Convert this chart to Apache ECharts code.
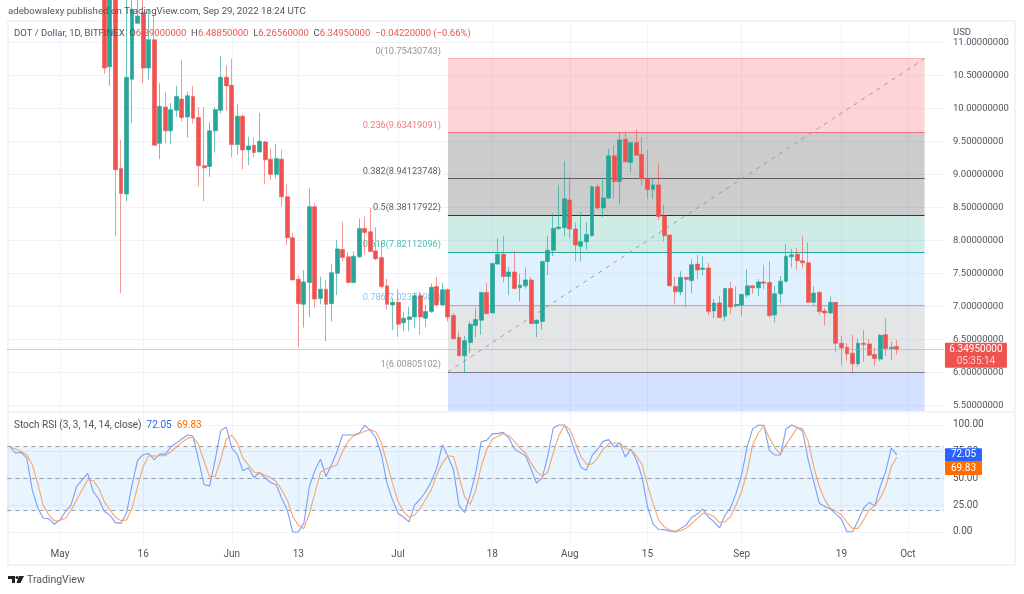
<!DOCTYPE html>
<html><head><meta charset="utf-8">
<style>html,body{margin:0;padding:0;background:#fff}#c{width:1024px;height:594px}</style>
<script src="https://cdn.jsdelivr.net/npm/echarts@6/dist/echarts.min.js"></script>
</head><body><div id="c"></div>
<script>
const FONT = 'Roboto, sans-serif';
// daily categories, 22 Apr 2022 to 8 Oct 2022
const firstDay = Date.UTC(2022, 3, 22);
const dayCount = 169;
const days = [];
for (let i = 0; i < dayCount; i++) days.push(new Date(firstDay + i * 86400000).toISOString().slice(0, 10));
const xTickDays = ['2022-05-01','2022-05-16','2022-06-01','2022-06-13','2022-07-01','2022-07-18','2022-08-01','2022-08-15','2022-09-01','2022-09-19','2022-10-01'];
const xTickLabels = ['May','16','Jun','13','Jul','18','Aug','15','Sep','19','Oct'];
const priceTicks = [5.5,6,6.5,7,7.5,8,8.5,9,9.5,10,10.5,11];
const stochTicks = [0,25,50,75,100];

// candles start on 9 May
const candleStart = '2022-05-09';
const opens = [11.75,10.63,11.9,9.09,8.7,10.44,11.29,11.45,10.61,11.04,
 9.47,10.02,9.66,9.97,10.14,9.87,10.18,9.86,9.13,9.12,
 9.66,9.97,10.47,10.35,9.45,9.88,9.37,9.44,9.34,9.49,
 9.23,9.0,9.23,8.66,8.04,7.41,7.03,7.36,8.51,7.12,
 7.26,7.04,7.5,7.86,7.75,7.36,7.75,8.18,8.13,7.84,
 7.74,7.31,7.02,7.06,6.75,6.8,6.84,7.16,6.82,6.92,
 7.3,7.02,7.25,6.86,6.53,6.25,6.45,6.71,6.79,7.21,
 6.9,7.64,7.79,7.45,7.52,7.28,7.31,7.4,6.74,6.77,
 7.68,7.85,8.18,8.19,8.61,8.17,7.91,7.98,8.07,8.81,
 8.49,8.64,9.28,8.89,9.53,9.18,9.48,9.3,8.94,8.77,
 8.84,8.37,8.08,7.3,7.22,7.44,7.39,7.64,7.56,7.58,
 6.93,7.05,6.85,7.27,7.01,7.02,7.17,7.31,7.28,7.37,
 7.36,6.87,7.19,7.38,7.75,7.79,7.69,7.66,7.06,7.21,
 6.93,6.9,7.06,6.44,6.38,6.29,6.13,6.44,6.43,6.27,
 6.2,6.57,6.36,6.39];
const closes = [10.61,11.8,9.07,8.71,10.47,11.5,11.4,10.61,11.04,9.44,
 10.03,9.66,9.98,10.18,9.86,10.19,9.85,9.13,9.1,9.66,
 9.98,10.47,10.34,9.45,9.88,9.37,9.43,9.33,9.5,9.22,
 9.0,9.24,8.66,8.04,7.4,7.04,7.37,8.51,7.11,7.26,
 7.03,7.51,7.87,7.74,7.36,7.76,8.18,8.12,7.83,7.72,
 7.3,7.03,7.06,6.73,6.82,6.84,7.16,6.84,6.92,7.29,
 7.02,7.25,6.84,6.51,6.25,6.48,6.73,6.8,7.21,6.89,
 7.65,7.79,7.45,7.52,7.27,7.32,7.4,6.74,6.79,7.68,
 7.85,8.18,8.2,8.63,8.17,7.93,7.98,8.09,8.81,8.49,
 8.64,9.28,8.89,9.52,9.19,9.48,9.29,8.93,8.77,8.84,
 8.36,8.07,7.31,7.22,7.44,7.41,7.63,7.55,7.58,6.92,
 7.05,6.83,7.27,6.99,7.03,7.18,7.31,7.28,7.37,7.35,
 6.86,7.19,7.38,7.76,7.78,7.69,7.66,7.06,7.2,6.92,
 6.9,7.06,6.44,6.37,6.28,6.13,6.44,6.42,6.26,6.21,
 6.56,6.36,6.38,6.3495];
const lows = [10.52,10.34,8.06,7.2,8.59,9.78,11.28,10.38,10.43,9.44,
 9.23,9.47,9.46,9.87,9.8,9.56,9.77,8.82,8.59,8.96,
 9.33,9.92,9.97,9.26,9.3,9.07,9.14,9.26,9.33,8.85,
 8.91,8.94,8.52,7.93,7.4,6.38,6.68,6.84,6.98,7.03,
 6.47,6.77,7.17,7.68,7.35,7.35,7.73,7.79,7.83,7.7,
 7.27,6.95,6.64,6.54,6.62,6.62,6.67,6.57,6.69,6.9,
 7.0,7.01,6.77,6.5,6.25,5.99,6.29,6.53,6.57,6.88,
 6.9,7.63,7.36,7.17,7.26,7.08,7.27,6.73,6.53,6.65,
 7.47,7.76,8.16,8.06,8.03,7.68,7.68,7.86,8.06,8.48,
 8.35,8.63,8.64,8.55,9.19,9.03,9.29,8.83,8.63,8.63,
 8.31,7.98,7.31,7.03,7.17,6.99,7.2,7.41,7.46,6.87,
 6.82,6.83,6.78,6.88,6.98,6.86,7.13,7.19,7.15,7.26,
 6.83,6.76,7.05,7.36,7.59,7.55,7.57,7.05,7.02,6.88,
 6.71,6.89,6.3,6.11,6.18,5.98,6.09,6.16,6.25,6.1,
 6.17,6.25,6.19,6.2656];
const highs = [11.9,12.1,12.2,9.52,11.8,11.75,11.7,11.8,11.5,11.4,
 10.38,10.25,10.08,10.34,10.73,10.25,10.34,10.02,10.02,9.79,
 10.02,10.79,10.65,10.75,10.06,9.91,9.57,9.555,9.93,9.51,
 9.39,9.46,9.37,8.85,8.11,7.47,7.55,8.79,8.56,7.45,
 7.4,7.64,8.0,8.28,7.83,7.83,8.33,8.36,8.49,8.2,
 7.98,7.42,7.12,7.26,6.92,6.99,7.21,7.22,7.02,7.35,
 7.44,7.35,7.27,6.9,6.62,6.55,6.77,6.98,7.22,7.35,
 7.66,8.03,8.07,7.6,7.84,7.49,7.59,7.44,6.8,7.69,
 8.07,8.41,8.84,9.2,8.96,8.27,8.43,8.27,8.83,8.86,
 8.92,9.39,9.44,9.64,9.63,9.48,9.68,9.56,9.37,8.94,
 9.17,8.54,8.08,7.45,7.53,7.44,7.71,7.78,7.76,7.66,
 7.11,7.16,7.27,7.37,7.3,7.19,7.56,7.31,7.41,7.63,
 7.69,7.31,7.46,7.94,7.87,7.89,8.06,7.97,7.3,7.24,
 6.97,7.15,7.06,6.55,6.44,6.57,6.51,6.64,6.5,6.37,
 6.58,6.82,6.46,6.4885];

// Stoch RSI, one value per day from 22 Apr
const stochK = [79.4,73.8,74.4,69.1,39.4,22.2,12.8,12.5,7.2,
 11.3,19.1,25.3,42.5,48.8,54.7,37.8,30.6,19.1,15.9,8.8,8.1,17.5,44.1,66.9,72.2,
 73.4,67.5,72.8,72.8,79.4,83.1,86.9,90.6,89.7,67.5,44.1,43.1,67.5,94.7,98.1,
 78.4,72.2,57.2,60,50.9,55.6,50.3,46.3,44.1,31.6,20.6,0,0,8.1,42.5,57.5,68.1,
 51.9,62.8,75.3,90.6,90.6,90.6,92.5,99.7,95,87.8,72.2,45.6,30,17.5,13.8,9.4,
 25.3,30.6,37.8,47.2,59.7,81.6,70.6,58.1,24.7,18.1,34.7,55,84.4,85.6,91.9,91.9,93.1,87.8,
 77.5,74.4,71.3,58.8,45.6,50.3,70.6,97.2,100,100,89.4,73.8,60.3,57.8,71.3,77.5,84.7,86.3,
 79.4,83.1,70,77.5,67.5,51.9,23.8,7.5,2.5,2.2,0.9,0,3.4,6.6,13.8,16.9,21.3,13.8,9.7,3.8,
 15.9,22.8,36.3,53.4,80,96.6,99.7,99.7,76.3,71.9,71.9,96.3,100,97.8,94.1,67.5,47.2,26.9,
 23.8,21.6,16.9,11.9,0.3,0.3,10.6,22.2,27.8,24.4,42.5,56.6,78.4,72.05];
const stochD = [79.4,77.5,75.3,72.2,62.8,45,24.4,15.9,10.3,
 10.9,12.8,20.6,30,39.4,48.8,48.1,40.9,28.4,20.6,13.8,10.6,11.3,22.2,42.5,61.3,
 71.3,70.9,71.3,71.3,75,79.4,83.8,87.5,88.8,81.6,65.9,51.9,51.9,67.5,86.9,
 90.6,83.1,69.1,62.8,55.9,55.6,52.8,50.9,47.2,39.4,30,14.4,6.6,3.1,17.5,36.3,55.9,
 59.1,60.6,62.8,75.3,84.7,90,91.9,94.1,95.6,93.4,83.1,64.4,45.6,28.4,19.1,13.8,
 15.9,22.2,30.6,39.4,53.4,64.4,71.3,70.6,51.9,33.1,25.9,38.4,61.3,76.9,86.9,89.4,91.9,90,
 84.7,78.4,73.8,64.4,56.6,51.9,55.6,73.8,90,100,95.6,83.1,70.6,63.4,63.4,69.1,77.5,82.2,
 83.1,83.1,77.8,76.9,71.3,63.4,44.1,26.9,11.3,5,1.9,0.6,1.3,3.4,8.1,12.8,17.5,16.9,14.4,8.8,
 9.7,14.4,25.3,37.8,56.6,81.6,92.5,98.8,87.8,78.4,72.8,81.6,89.4,97.5,96.6,84.7,61.3,42.5,
 30,22.2,19.7,15.9,9.1,3.4,3.4,11.3,20.6,24.4,31.6,42.5,61.3,69.83];

// Fibonacci retracement
const fibStart = '2022-07-10', fibEnd = '2022-10-04';
const fibLevels = ['0','0.236','0.382','0.5','0.618','0.786','1'];
const fibPrices = [10.75430743,9.63419091,8.94123748,8.38117922,7.82112096,7.02374989,6.00805102];
const fibLabelColors = ['#787b86','#f7525f','#333333','#333333','#22ab94','#64b5f6','#787b86'];
const fibLineColors = ['#f9b4b9','#e8747c','#5d5d5d','#333333','#22ab94','#7fbdf0','#787b86'];
const fibZoneColors = ['rgba(247,82,95,.25)','rgba(0,0,0,.2)','rgba(0,0,0,.2)','rgba(8,153,129,.2)','rgba(100,181,246,.2)','rgba(120,123,134,.2)','rgba(41,98,255,.2)'];
const lastClose = 6.3495;

const UP = 'rgb(38,166,154)', DOWN = 'rgb(239,83,80)', AXIS = '#50535e';
const UP_WICK = 'rgba(38,166,154,.65)', DOWN_WICK = 'rgba(239,83,80,.6)';
const priceMin = 5.414, priceMax = 11.323;
const padCount = days.indexOf(candleStart);
const candleData = Array.from({length: padCount}, () => ['-','-','-','-'])
  .concat(opens.map((o, i) => [o, closes[i], lows[i], highs[i]]));

const fibZones = fibPrices.map((p, i) => [
  {coord: [fibStart, p], itemStyle: {color: fibZoneColors[i]}},
  {coord: [fibEnd, i < 6 ? fibPrices[i + 1] : priceMin]}
]);
const fibLines = fibPrices.map((p, i) => [
  {coord: [fibStart, p], lineStyle: {color: fibLineColors[i], width: i === 0 ? 1 : 1.2, type: 'solid'}},
  {coord: [fibEnd, p]}
]);
fibLines.push([
  {coord: [fibStart, fibPrices[6]], lineStyle: {color: '#9a9ca3', width: 1, type: [4, 5]}},
  {coord: [fibEnd, fibPrices[0]]}
]);
const vGrid = xTickDays.map(d => ({xAxis: d}));

function tagSeries(name, xAxisIndex, yAxisIndex, day, value, dy, w, h, fill, lines) {
  return {
    name, type: 'custom', xAxisIndex, yAxisIndex, z: 20, silent: true, clip: false,
    data: [[day, value]],
    renderItem(params, api) {
      const y = api.coord([api.value(0), api.value(1)])[1] + dy;
      const x = params.coordSys.x + params.coordSys.width + 1;
      const kids = [{type: 'rect', shape: {x, y: y - h / 2, width: w, height: h, r: 1}, style: {fill}}];
      lines.forEach((l, i) => kids.push({
        type: 'text',
        style: {x: x + w / 2, y: y - h / 2 + (i + .5) * h / lines.length, text: l.t, fill: l.c,
          font: '10px ' + FONT, align: 'center', verticalAlign: 'middle'}
      }));
      return {type: 'group', children: kids};
    }
  };
}

const chart = echarts.init(document.getElementById('c'), null, {renderer: 'canvas'});
chart.setOption({
  animation: false,
  backgroundColor: '#fff',
  textStyle: {fontFamily: FONT},
  grid: [
    {left: 7.35, width: 936.6, top: 21, height: 390},
    {left: 7.35, width: 936.6, top: 413, height: 130}
  ],
  xAxis: [
    {type: 'category', gridIndex: 0, data: days, axisLine: {show: false}, axisTick: {show: false}, axisLabel: {show: false}, splitLine: {show: false}},
    {type: 'category', gridIndex: 1, data: days, axisLine: {show: false}, axisTick: {show: false}, splitLine: {show: false},
     axisLabel: {margin: 6, fontSize: 10, color: AXIS, interval: (i, v) => xTickDays.includes(v),
       formatter: v => xTickLabels[xTickDays.indexOf(v)]}}
  ],
  yAxis: [
    {type: 'value', gridIndex: 0, position: 'right', min: priceMin, max: priceMax, scale: true,
     axisLine: {show: false}, axisTick: {show: false, customValues: priceTicks},
     splitLine: {lineStyle: {color: '#f0f3fa', width: 1}},
     axisLabel: {customValues: priceTicks, margin: 9, fontSize: 9.5, padding: [2, 0, 0, 0], color: AXIS, formatter: v => v.toFixed(8)}},
    {type: 'value', gridIndex: 1, position: 'right', min: -10.28, max: 111.2,
     axisLine: {show: false}, axisTick: {show: false, customValues: stochTicks},
     splitLine: {lineStyle: {color: '#f0f3fa', width: 1}},
     axisLabel: {customValues: stochTicks, margin: 9, fontSize: 10, padding: [2, 0, 0, 0], color: AXIS, formatter: v => v.toFixed(2)}}
  ],
  series: [
    {name: 'gridTop', type: 'line', xAxisIndex: 0, yAxisIndex: 0, data: [], z: 0, silent: true,
     markLine: {silent: true, z: 0, symbol: 'none', animation: false, label: {show: false}, lineStyle: {color: '#f0f3fa', width: 1, type: 'solid'}, data: vGrid}},
    {name: 'gridBottom', type: 'line', xAxisIndex: 1, yAxisIndex: 1, data: [], z: 0, silent: true,
     markLine: {silent: true, z: 0, symbol: 'none', animation: false, label: {show: false}, lineStyle: {color: '#f0f3fa', width: 1, type: 'solid'}, data: vGrid}},
    {name: 'Fib', type: 'scatter', xAxisIndex: 0, yAxisIndex: 0, z: 1, silent: true, symbolSize: 0,
     data: fibPrices.map((p, i) => ({value: [fibStart, p],
       label: {show: true, position: 'left', distance: 7, offset: [0, -7], fontSize: 9.2, color: fibLabelColors[i],
         formatter: fibLevels[i] + '(' + p.toFixed(8) + ')'}})),
     markArea: {silent: true, z: 0.5, animation: false, data: fibZones},
     markLine: {silent: true, z: 1, symbol: 'none', animation: false, label: {show: false}, data: fibLines}},
    {name: 'DOT / Dollar', type: 'candlestick', xAxisIndex: 0, yAxisIndex: 0, z: 2, barWidth: 4.4, clip: true,
     itemStyle: {color: UP, color0: DOWN, borderColor: UP_WICK, borderColor0: DOWN_WICK, borderWidth: 1},
     data: candleData},
    {name: 'lastPrice', type: 'line', xAxisIndex: 0, yAxisIndex: 0, data: [], z: 3, silent: true,
     itemStyle: {color: '#f0504e'}, lineStyle: {color: '#f0504e'},
     markLine: {silent: true, z: 3, symbol: 'none', animation: false, label: {show: false},
       lineStyle: {color: '#f7827f', width: 1, type: 'dotted'}, data: [{yAxis: lastClose}]}},
    {name: 'Stoch K', type: 'line', xAxisIndex: 1, yAxisIndex: 1, z: 3, showSymbol: false, symbol: 'none', silent: true,
     lineStyle: {color: '#7a9ff7', width: 1.1}, data: stochK,
     markArea: {silent: true, z: 0.5, animation: false, itemStyle: {color: 'rgba(33,150,243,.1)'}, data: [[{yAxis: 80}, {yAxis: 20}]]},
     markLine: {silent: true, z: 1, symbol: 'none', animation: false, label: {show: false},
       lineStyle: {color: '#9598a1', width: 1, type: [4, 4]}, data: [{yAxis: 80}, {yAxis: 50}, {yAxis: 20}]}},
    {name: 'Stoch D', type: 'line', xAxisIndex: 1, yAxisIndex: 1, z: 4, showSymbol: false, symbol: 'none', silent: true,
     lineStyle: {color: '#f7a56e', width: 1.1}, data: stochD},
    tagSeries('priceTag', 0, 0, days[days.length - 1], lastClose, 6, 62, 25, '#ef5350',
      [{t: '6.34950000', c: '#ffffff'}, {t: '05:35:14', c: '#fbd2d0'}]),
    tagSeries('kTag', 1, 1, days[days.length - 1], 72.05, 0, 37, 13.5, '#2962ff', [{t: '72.05', c: '#ffffff'}]),
    tagSeries('dTag', 1, 1, days[days.length - 1], 69.83, 11, 37, 13.5, '#ff6d00', [{t: '69.83', c: '#ffffff'}])
  ],
  graphic: [
    {type: 'rect', z: 0, silent: true, shape: {x: 8, y: 21, width: 1007, height: 544}, style: {fill: 'none', stroke: '#eef0f6', lineWidth: 1.5}},
    {type: 'line', z: 0, silent: true, shape: {x1: 8, y1: 412, x2: 1015, y2: 412}, style: {stroke: '#eef0f6', lineWidth: 1.5}},
    {type: 'text', z: 50, silent: true, left: 8, top: 7, style: {text: 'adebowalexy published on TradingView.com, Sep 29, 2022 18:24 UTC', fill: '#555', font: '9.7px ' + FONT}},
    {type: 'text', z: 50, silent: true, left: 14, top: 29, style: {
      text: '{g|DOT / Dollar, 1D, BITFINEX  O}{r|6.39000000}{g|  H}{r|6.48850000}{g|  L}{r|6.26560000}{g|  C}{r|6.34950000  −0.04220000 (−0.66%)}',
      font: '9.5px ' + FONT,
      rich: {g: {fill: '#50535e', font: '9.5px ' + FONT}, r: {fill: '#ef5350', font: '9.5px ' + FONT}}}},
    {type: 'text', z: 50, silent: true, left: 953, top: 28, style: {text: 'USD', fill: AXIS, font: '9.5px ' + FONT}},
    {type: 'text', z: 50, silent: true, left: 14, top: 420, style: {
      text: '{g|Stoch RSI (3, 3, 14, 14, close)  }{b|72.05  }{o|69.83}',
      font: '10px ' + FONT,
      rich: {g: {fill: '#50535e', font: '10px ' + FONT}, b: {fill: '#2962ff', font: '10px ' + FONT}, o: {fill: '#ff6d00', font: '10px ' + FONT}}}},
    {type: 'polygon', z: 50, silent: true, shape: {points: [[8,576],[15,576],[15,583],[12,583],[12,579],[8,579]]}, style: {fill: '#1e222d'}},
    {type: 'circle', z: 50, silent: true, shape: {cx: 17, cy: 577.5, r: 1.5}, style: {fill: '#1e222d'}},
    {type: 'polygon', z: 50, silent: true, shape: {points: [[19,576],[24,576],[20.5,583],[16.5,583]]}, style: {fill: '#1e222d'}},
    {type: 'text', z: 50, silent: true, left: 27, top: 575, style: {text: 'TradingView', fill: '#555', font: '10.5px ' + FONT}}
  ]
});
</script></body></html>
